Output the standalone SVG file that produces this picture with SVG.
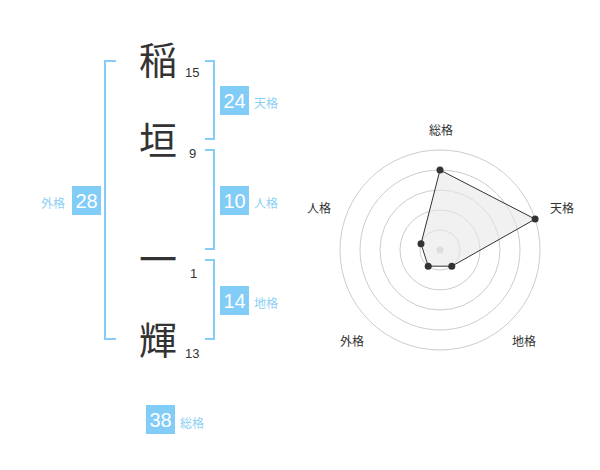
<svg xmlns="http://www.w3.org/2000/svg" width="600" height="470" viewBox="0 0 600 470">
<style>
.ch{font-family:"Noto Sans CJK JP","Noto Sans CJK SC",sans-serif;font-size:38px;fill:#333;text-anchor:middle}
.num{font-family:"Liberation Sans",Arial,sans-serif;font-size:13px;fill:#333}
.br{fill:none;stroke:#85cdf8;stroke-width:2}
.box{fill:#82ccf8}
.bt{font-family:"Liberation Sans",Arial,sans-serif;font-size:20px;fill:#fff;text-anchor:middle}
.bl{font-family:"Noto Sans CJK JP","Noto Sans CJK SC",sans-serif;font-size:12px;fill:#8ccff5}
.ring{fill:none;stroke:#ccc;stroke-width:1}
.ax{font-family:"Noto Sans CJK JP","Noto Sans CJK SC",sans-serif;font-size:12px;fill:#333;text-anchor:middle}
.pt{fill:#333}
</style>
<rect width="600" height="470" fill="#fff"/>
<g id="chars">
<text class="ch" x="158" y="74">稲</text>
<text class="num" x="185" y="77">15</text>
<text class="ch" x="158" y="154">垣</text>
<text class="num" x="189" y="158">9</text>
<text class="ch" x="158" y="273">一</text>
<text class="num" x="190" y="278">1</text>
<text class="ch" x="158" y="354">輝</text>
<text class="num" x="185" y="358">13</text>
</g>
<g id="connectors">
<path class="br" d="M116,61 H105 V339 H116"/>
<path class="br" d="M205,61 H214 V139 H205"/>
<path class="br" d="M205,150 H214 V249 H205"/>
<path class="br" d="M205,260 H214 V339 H205"/>
</g>
<g id="tenkaku">
<rect class="box" x="220" y="86" width="29" height="29"/>
<text class="bt" x="234.5" y="108">24</text>
<text class="bl" x="254" y="108">天格</text>
</g>
<g id="jinkaku">
<rect class="box" x="220" y="186" width="29" height="29"/>
<text class="bt" x="234.5" y="208">10</text>
<text class="bl" x="254" y="208">人格</text>
</g>
<g id="chikaku">
<rect class="box" x="220" y="286" width="29" height="29"/>
<text class="bt" x="234.5" y="308">14</text>
<text class="bl" x="254" y="308">地格</text>
</g>
<g id="gaikaku">
<rect class="box" x="72" y="186" width="29" height="29"/>
<text class="bt" x="86.5" y="208">28</text>
<text class="bl" x="41" y="208">外格</text>
</g>
<g id="soukaku">
<rect class="box" x="146" y="405" width="29" height="29"/>
<text class="bt" x="160.5" y="427">38</text>
<text class="bl" x="180" y="428">総格</text>
</g>
<g id="radar">
<circle class="ring" cx="440" cy="250" r="20"/>
<circle class="ring" cx="440" cy="250" r="40"/>
<circle class="ring" cx="440" cy="250" r="60"/>
<circle class="ring" cx="440" cy="250" r="80"/>
<circle class="ring" cx="440" cy="250" r="100"/>
<circle cx="440" cy="250" r="3.5" fill="#ccc"/>
<polygon points="440,170 535.1,219.1 451.8,266.2 428.2,266.2 421,243.8" fill="#e8e8e8" fill-opacity="0.6" stroke="#333" stroke-width="1"/>
<circle class="pt" cx="440" cy="170" r="3.5"/>
<circle class="pt" cx="535.1" cy="219.1" r="3.5"/>
<circle class="pt" cx="451.8" cy="266.2" r="3.5"/>
<circle class="pt" cx="428.2" cy="266.2" r="3.5"/>
<circle class="pt" cx="421" cy="243.8" r="3.5"/>
<text class="ax" x="441" y="135">総格</text>
<text class="ax" x="562" y="213">天格</text>
<text class="ax" x="319" y="213">人格</text>
<text class="ax" x="352" y="346">外格</text>
<text class="ax" x="524" y="346">地格</text>
</g>
</svg>
